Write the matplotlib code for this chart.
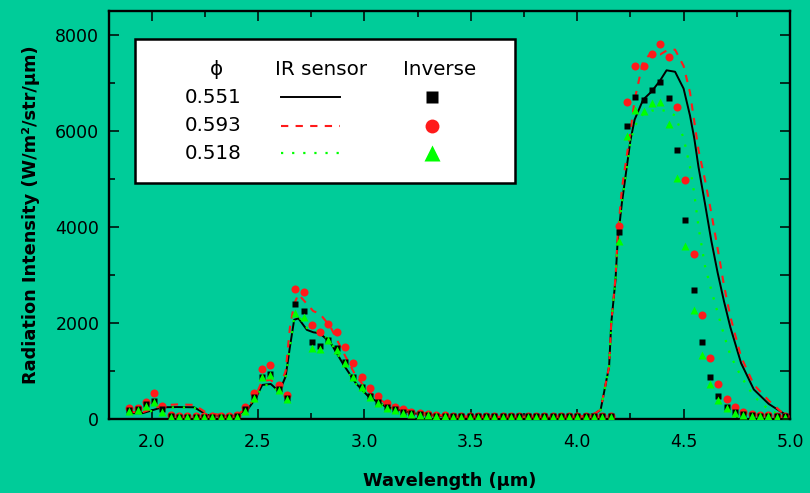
import numpy as np
import matplotlib
matplotlib.use("Agg")
import matplotlib.pyplot as plt
from matplotlib.ticker import MultipleLocator
from matplotlib.patches import Rectangle

BG = "#00CC99"

# IR sensor spectra (continuous curves), one wavelength grid for all three
wl_ir = [1.89, 1.96, 2.05, 2.12, 2.20, 2.26, 2.38, 2.45, 2.49, 2.52, 2.56, 2.60,
         2.63, 2.65, 2.67, 2.69, 2.73, 2.76, 2.79, 2.84, 2.90, 2.96, 3.02, 3.10,
         3.23, 3.40, 3.70, 4.00, 4.08, 4.11, 4.15, 4.16, 4.18, 4.19, 4.21, 4.25,
         4.27, 4.31, 4.35, 4.39, 4.42, 4.46, 4.50, 4.53, 4.55, 4.57, 4.60, 4.63,
         4.66, 4.69, 4.72, 4.77, 4.83, 4.90, 4.96, 5.00]
ir_551 = [125, 130, 250, 255, 250, 90, 55, 195, 440, 715, 735, 575,
          890, 1500, 2070, 2100, 1860, 1810, 1790, 1600, 1150, 750, 470, 265,
          125, 50, 30, 35, 110, 194, 1100, 2000, 2900, 3700, 4500, 5800,
          6235, 6650, 6820, 7050, 7260, 7230, 6880, 6320, 5850, 5250, 4500, 3720,
          3050, 2450, 1910, 1170, 620, 320, 150, 40]
ir_593 = [150, 150, 290, 310, 300, 130, 60, 220, 500, 800, 820, 650,
          1000, 1900, 2400, 2600, 2400, 2250, 2200, 1930, 1400, 900, 580, 330,
          160, 60, 40, 40, 110, 200, 1100, 2000, 2950, 3800, 4800, 5980,
          6650, 7450, 7625, 7590, 7670, 7690, 7350, 6800, 6200, 5600, 4990, 4300,
          3550, 2780, 2130, 1300, 720, 390, 150, 50]
ir_518 = [110, 120, 240, 250, 240, 85, 50, 190, 430, 700, 720, 560,
          880, 1500, 2100, 2150, 1900, 1850, 1820, 1620, 1150, 740, 460, 260,
          120, 45, 30, 30, 100, 190, 1100, 2000, 2900, 3700, 4500, 5750,
          6100, 6350, 6420, 6440, 6410, 6320, 5850, 5250, 4700, 4000, 3200, 2690,
          2220, 1750, 1330, 890, 480, 200, 80, 40]

# inverse-method results on the reconstruction wavelengths
wl_inv = [1.895, 1.934, 1.973, 2.012, 2.051, 2.090, 2.129, 2.168, 2.207, 2.246,
          2.285, 2.324, 2.363, 2.402, 2.441, 2.480, 2.519, 2.558, 2.597, 2.636,
          2.675, 2.714, 2.753, 2.792, 2.831, 2.870, 2.909, 2.948, 2.987, 3.026,
          3.065, 3.104, 3.143, 3.182, 3.221, 3.260, 3.299, 3.338, 3.377, 3.416,
          3.455, 3.494, 3.533, 3.572, 3.611, 3.650, 3.689, 3.728, 3.767, 3.806,
          3.845, 3.884, 3.923, 3.962, 4.001, 4.040, 4.079, 4.118, 4.157, 4.196,
          4.235, 4.274, 4.313, 4.352, 4.391, 4.430, 4.469, 4.508, 4.547, 4.586,
          4.625, 4.664, 4.703, 4.742, 4.781, 4.820, 4.859, 4.898, 4.937, 4.976]
inv_551 = [200, 210, 320, 390, 210, 60, 55, 50, 50, 50,
           50, 50, 55, 60, 210, 470, 890, 940, 625, 440,
           2400, 2260, 1600, 1530, 1660, 1480, 1190, 890, 680, 490,
           360, 260, 210, 150, 130, 110, 90, 75, 65, 60,
           60, 60, 60, 60, 60, 60, 60, 60, 60, 60,
           60, 60, 60, 60, 60, 60, 60, 60, 60, 3900,
           6100, 6710, 6650, 6850, 7010, 6680, 5610, 4140, 2700, 1600,
           890, 485, 265, 150, 100, 80, 70, 65, 60, 60]
inv_593 = [240, 240, 370, 540, 270, 80, 75, 70, 70, 70,
           70, 70, 75, 80, 250, 555, 1050, 1120, 715, 500,
           2715, 2640, 1965, 1810, 1980, 1825, 1500, 1165, 875, 645,
           485, 345, 265, 215, 160, 130, 110, 90, 80, 75,
           75, 75, 75, 75, 75, 75, 75, 75, 75, 75,
           75, 75, 75, 75, 75, 75, 75, 75, 75, 4030,
           6600, 7360, 7350, 7590, 7800, 7540, 6500, 4985, 3445, 2175,
           1285, 735, 415, 250, 150, 110, 90, 80, 75, 70]
inv_518 = [175, 190, 280, 350, 150, 50, 50, 45, 45, 45,
           45, 45, 50, 55, 180, 450, 870, 920, 610, 415,
           2220, 2125, 1490, 1465, 1640, 1445, 1165, 875, 665, 470,
           345, 240, 200, 140, 120, 95, 80, 65, 60, 55,
           55, 55, 55, 55, 55, 55, 55, 55, 55, 55,
           55, 55, 55, 55, 55, 55, 55, 55, 55, 3700,
           5900, 6440, 6420, 6580, 6610, 6150, 5020, 3600, 2280, 1330,
           735, 400, 230, 140, 95, 75, 65, 60, 55, 55]

phi_labels = ["0.551", "0.593", "0.518"]

plt.rcParams["font.family"] = ["DejaVu Sans"]

fig = plt.figure(figsize=(8.1, 4.93), dpi=100, facecolor=BG)
ax = fig.add_axes([109 / 810, 1 - 419.3 / 493, 681 / 810, 408.6 / 493])
ax.set_facecolor(BG)

line_styles = [
    dict(color="black", lw=1.4, ls="-"),
    dict(color="#FF1A1A", lw=1.5, ls=(0, (3.5, 3.5))),
    dict(color="#00FF00", lw=1.6, ls=(0, (1, 4))),
]
marker_styles = [
    dict(marker="s", color="black", ms=4.8),
    dict(marker="o", color="#FF1A1A", ms=5.8),
    dict(marker="^", color="#00FF00", ms=6.2),
]

for ys, st in zip([ir_551, ir_593, ir_518], line_styles):
    ax.plot(wl_ir, ys, zorder=2, **st)

# circles underneath, then squares, triangles on top
for ys, st, z in zip([inv_551, inv_593, inv_518], marker_styles, [4, 3, 5]):
    ax.plot(wl_inv, ys, ls="none", mec="none", zorder=z, **st)

ax.set_xlim(1.8, 5.0)
ax.set_ylim(0, 8500)
ax.xaxis.set_major_locator(MultipleLocator(0.5))
ax.xaxis.set_minor_locator(MultipleLocator(0.25))
ax.yaxis.set_major_locator(MultipleLocator(2000))
ax.yaxis.set_minor_locator(MultipleLocator(1000))
ax.tick_params(which="both", direction="in", top=True, right=False, width=1.1,
               labelsize=12.5)
ax.tick_params(which="major", length=7.5)
ax.tick_params(which="minor", length=4.2)
ax.tick_params(axis="x", pad=10)
ax.tick_params(axis="y", pad=7)
for sp in ax.spines.values():
    sp.set_linewidth(1.7)

# right-hand axis carries a tick at every 1000
ax2 = ax.twinx()
ax2.set_ylim(ax.get_ylim())
ax2.yaxis.set_major_locator(MultipleLocator(1000))
ax2.tick_params(direction="in", length=7.5, width=1.1, labelright=False)
for sp in ax2.spines.values():
    sp.set_visible(False)

ax.set_xlabel("Wavelength (µm)", fontsize=12.8, fontweight="bold", labelpad=15)
ax.set_ylabel("Radiation Intensity (W/m²/str/µm)", fontsize=12.8,
              fontweight="bold", labelpad=11)

# legend table: phi | IR sensor | Inverse
ax.add_patch(Rectangle((0.038, 0.578), 0.558, 0.352, transform=ax.transAxes,
                       facecolor="white", edgecolor="black", lw=1.8, zorder=10))
fs = 14.3
hy = 0.855
ax.text(0.158, hy, "ϕ", transform=ax.transAxes, ha="center", va="center",
        fontsize=fs, zorder=11)
ax.text(0.311, hy, "IR sensor", transform=ax.transAxes, ha="center",
        va="center", fontsize=fs, zorder=11)
ax.text(0.485, hy, "Inverse", transform=ax.transAxes, ha="center", va="center",
        fontsize=fs, zorder=11)
rows = [0.788, 0.719, 0.651]
leg_ms = [8.6, 10.0, 12.0]
for lab, y, lst, mst, ms in zip(phi_labels, rows, line_styles, marker_styles, leg_ms):
    ax.text(0.153, y, lab, transform=ax.transAxes, ha="center", va="center",
            fontsize=fs, zorder=11)
    ax.plot([0.2526, 0.3392], [y, y], transform=ax.transAxes, zorder=11, **lst)
    m = dict(mst)
    m["ms"] = ms
    ax.plot([0.4743], [y], transform=ax.transAxes, ls="none", mec="none",
            zorder=11, **m)

fig.savefig("out.png", dpi=100, facecolor=BG)
